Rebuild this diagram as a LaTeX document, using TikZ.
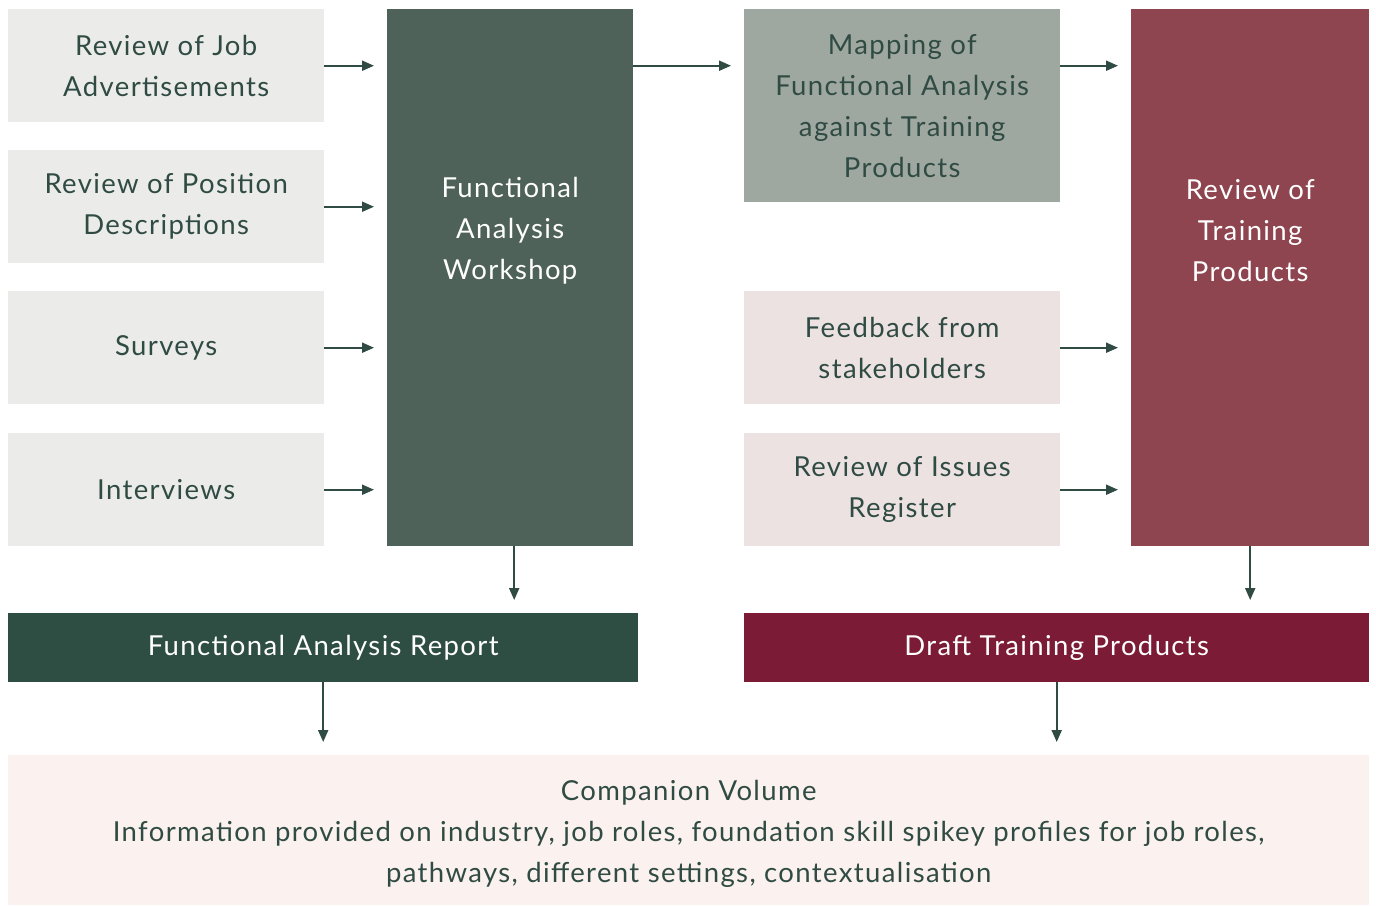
\documentclass[tikz,border=0pt]{standalone}
\usepackage{fontspec}
\setmainfont[LetterSpace=5]{Lato}
\usepackage{tikz}
\usetikzlibrary{arrows.meta,positioning,calc}
\definecolor{txtgreen}{HTML}{2F4B43}
\definecolor{lightgrey}{HTML}{EBEBEA}
\definecolor{wsgreen}{HTML}{4E6259}
\definecolor{mapgrey}{HTML}{9FA8A0}
\definecolor{lightrose}{HTML}{EDE2E2}
\definecolor{revred}{HTML}{8F4550}
\definecolor{repgreen}{HTML}{2F4E43}
\definecolor{draftred}{HTML}{7B1B35}
\definecolor{compcream}{HTML}{FBF1EE}

\begin{document}
\begin{tikzpicture}[x=1pt,y=-1pt,
  txt/.style={font=\fontsize{27.5}{41}\selectfont,align=center,text=txtgreen},
  inbox/.style={txt,anchor=north west,inner sep=0pt,minimum width=316pt,minimum height=113pt,fill=lightgrey},
  tallbox/.style={anchor=north west,inner sep=0pt,minimum height=537pt},
  outbox/.style={txt,text=white,anchor=north west,inner sep=0pt,minimum height=69pt},
  flow/.style={-{Triangle[length=12pt,width=10pt]},line width=2pt,draw=txtgreen,shorten >=13pt}]
\fill[white] (0,0) rectangle (1376,905);
\useasboundingbox (0,0) rectangle (1376,905);

\node[inbox] (adv) at (8,9) {Review of Job\\Advertisements};
\node[inbox] (pos) at (8,150) {Review of Position\\Descriptions};
\node[inbox] (surv) at (8,291) {Surveys};
\node[inbox] (intv) at (8,433) {Interviews};

\node[tallbox,minimum width=246pt,fill=wsgreen] (ws) at (387,9) {};
\node[txt,text=white] (wsText) at ($(ws.north)+(0,222)$) {Functional\\Analysis\\Workshop};

\node[inbox,fill=mapgrey,minimum height=193pt] (map) at (744,9) {Mapping of\\Functional Analysis\\against Training\\Products};
\node[inbox,fill=lightrose] (feed) at (744,291) {Feedback from\\stakeholders};
\node[inbox,fill=lightrose] (iss) at (744,433) {Review of Issues\\Register};

\node[tallbox,minimum width=238pt,fill=revred] (rev) at (1131,9) {};
\node[txt,text=white] (revText) at ($(rev.north)+(0,222)$) {Review of\\Training\\Products};

\node[outbox,minimum width=630pt,fill=repgreen] (rep) at (8,613) {Functional Analysis Report};
\node[outbox,minimum width=625pt,fill=draftred] (draft) at (744,613) {Draft Training Products};

\node[anchor=north west,inner sep=0pt,minimum width=1361pt,minimum height=150pt,fill=compcream] (comp) at (8,755) {};
\node[txt] (compText) at ($(comp.center)+(0,4)$)
  {Companion Volume\\Information provided on industry, job roles, foundation skill spikey profiles for job roles,\\pathways, different settings, contextualisation};

\foreach \n in {adv,pos,surv,intv}
  \draw[flow] (\n.east) -- (\n.east -| ws.west);
\draw[flow] (ws.east |- adv.east) -- (map.west |- adv.east);
\draw[flow] (map.east |- adv.east) -- (rev.west |- adv.east);
\foreach \n in {feed,iss}
  \draw[flow] (\n.east) -- (\n.east -| rev.west);
\draw[flow] ($(ws.south)+(4,0)$) -- ($(ws.south |- rep.north)+(4,0)$);
\draw[flow] (rev.south) -- (rev.south |- draft.north);
\draw[flow] (rep.south) -- (rep.south |- comp.north);
\draw[flow] (draft.south) -- (draft.south |- comp.north);
\end{tikzpicture}
\end{document}
